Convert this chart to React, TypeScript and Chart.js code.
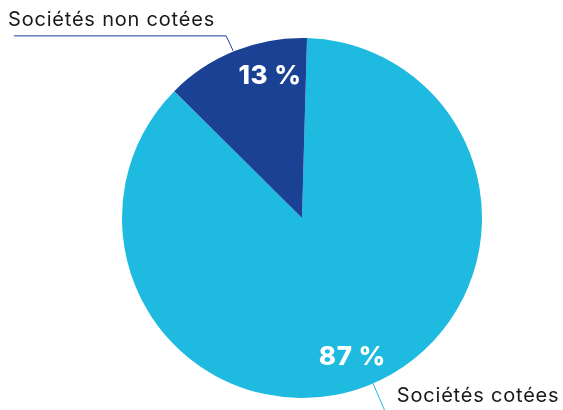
import React, { useEffect, useRef } from "react";
import { Chart, registerables } from "chart.js";

Chart.register(...registerables);

const categories = ["Sociétés cotées", "Sociétés non cotées"];
const values = [87, 13];
const valueLabels = ["87 %", "13 %"];
const colors = ["#1fbadf", "#1b4195"];

const labelPlugin = {
  id: "pieLabels",
  afterDatasetsDraw(chart: any) {
    const ctx = chart.ctx as CanvasRenderingContext2D;
    const meta = chart.getDatasetMeta(0);
    ctx.save();
    meta.data.forEach((arc: any, i: number) => {
      const p = arc.getProps(["x", "y", "startAngle", "endAngle", "outerRadius"], true);
      const mid = (p.startAngle + p.endAngle) / 2;
      // percentage label
      const shift = i === 1 ? 0.16 : 0.03;
      const a = mid + shift;
      const r = p.outerRadius * 0.815;
      ctx.fillStyle = "#ffffff";
      ctx.font = "800 26px Inter, 'Noto Sans', sans-serif";
      (ctx as any).letterSpacing = "0.5px";
      ctx.textAlign = "center";
      ctx.textBaseline = "middle";
      ctx.fillText(valueLabels[i], p.x + r * Math.cos(a), p.y + r * Math.sin(a) + 1);

      // leader line
      const ex = p.x + p.outerRadius * Math.cos(mid);
      const ey = p.y + p.outerRadius * Math.sin(mid);
      ctx.lineWidth = 1;
      ctx.strokeStyle = colors[i];
      ctx.font = "20px Inter, 'Noto Sans', sans-serif";
      (ctx as any).letterSpacing = "0.8px";
      ctx.fillStyle = "#1a1a1a";
      ctx.textBaseline = "alphabetic";
      if (i === 1) {
        ctx.beginPath();
        ctx.moveTo(ex - 2, ey);
        ctx.lineTo(ex - 9, ey - 15);
        ctx.lineTo(14, ey - 15);
        ctx.stroke();
        ctx.textAlign = "left";
        ctx.fillText(categories[i], 8, ey - 25);
      } else {
        ctx.beginPath();
        ctx.moveTo(ex + 4, ey - 2);
        ctx.lineTo(ex + 17, ey + 28);
        ctx.stroke();
        ctx.textAlign = "left";
        ctx.fillText(categories[i], ex + 28, ey + 17);
      }
    });
    ctx.restore();
  },
};

export default function App() {
  const ref = useRef<HTMLCanvasElement>(null);
  useEffect(() => {
    document.body.style.margin = "0";
    const chart = new Chart(ref.current!, {
      type: "pie",
      data: {
        labels: categories,
        datasets: [
          {
            data: values,
            backgroundColor: colors,
            borderWidth: 0,
          },
        ],
      },
      options: {
        animation: false,
        responsive: false,
        rotation: 1.6,
        layout: { padding: { top: 38, bottom: 12, left: 122, right: 81 } },
        plugins: {
          legend: { display: false },
          tooltip: { enabled: false },
        },
      },
      plugins: [labelPlugin],
    });
    return () => chart.destroy();
  }, []);
  return (
    <div style={{ width: 563, height: 410 }}>
      <canvas ref={ref} width={563} height={410} style={{ display: "block" }} />
    </div>
  );
}
